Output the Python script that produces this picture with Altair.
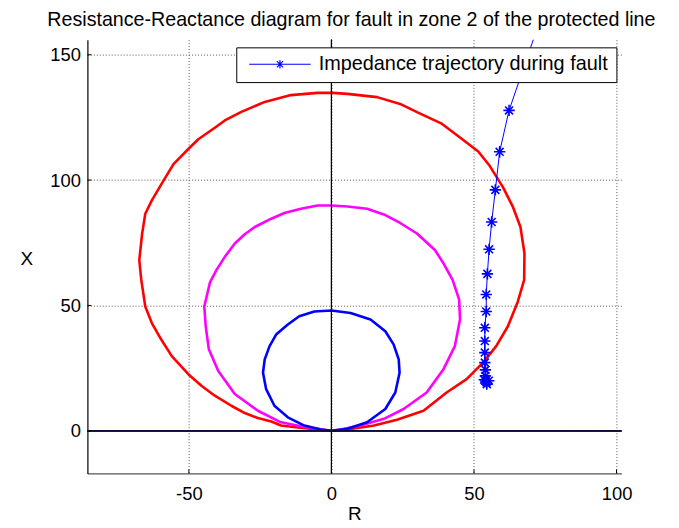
import altair as alt
import pandas as pd

title_text = "Resistance-Reactance diagram for fault in zone 2 of the protected line"
legend_label = "Impedance trajectory during fault"

# Zone 3 (red) characteristic
red_x = [0, 5.6, 14.9, 23.0, 32.3, 40.4, 47.4, 53.2, 57.8, 61.9, 65.4, 67.6, 67.7, 66.3, 63.7,
         60.2, 55.5, 51.5, 45.1, 38.7, 31.1, 24.1, 16.0, 5.6, 0.3, -4.9, -14.2, -23.4, -31.6,
         -37.4, -40.9, -46.7, -50.2, -55.4, -58.9, -63.0, -65.3, -66.4, -67.4, -66.7, -65.3,
         -63.0, -59.7, -56.0, -50.2, -45.5, -40.9, -35.1, -30.4, -25.8, -21.1, -17.7, -11.8,
         -4.9, 0]
red_y = [0, 0.5, 2.1, 4.4, 8.0, 15.3, 20.6, 27.2, 33.8, 41.7, 51.6, 60.2, 70.8, 81.3, 89.2,
         97.1, 105.7, 111.4, 117.0, 122.5, 126.5, 130.4, 133.1, 134.4, 134.8, 134.8, 133.9,
         131.2, 127.2, 123.8, 120.9, 116.3, 112.4, 106.4, 99.8, 91.9, 86.6, 78.7, 68.1, 60.2,
         49.6, 43.0, 36.4, 29.8, 22.6, 17.9, 14.0, 10.0, 7.1, 5.1, 3.7, 2.1, 1.3, 0.5, 0]

# Zone 2 (magenta)
mag_x = [0, 3.2, 10.2, 18.4, 25.3, 33.4, 39.3, 43.3, 45.1, 44.8, 42.5, 39.3, 36.3, 30.0, 24.1,
         18.4, 12.5, 5.6, 0, -4.9, -10.7, -16.5, -21.1, -26.9, -30.4, -33.9, -37.4, -40.3,
         -42.6, -44.6, -44.1, -43.0, -39.7, -33.9, -25.8, -17.7, -9.5, -2.5, 0]
mag_y = [0, 0.5, 2.1, 4.8, 8.7, 15.3, 24.6, 33.8, 44.4, 52.3, 60.2, 66.8, 72.1, 78.7, 82.9,
         86.3, 88.6, 89.5, 89.9, 89.9, 88.6, 86.9, 84.6, 81.3, 78.4, 74.7, 69.4, 64.2, 59.2,
         49.6, 41.7, 32.5, 23.9, 14.7, 8.0, 3.4, 1.5, 0.4, 0]

# Zone 1 (blue)
blue_x = [0, 5.6, 12.5, 18.9, 22.4, 23.9, 23.6, 21.8, 18.9, 13.7, 6.7, 0, -6.0, -11.3, -15.3,
          -19.4, -21.7, -23.4, -24.0, -22.9, -20.0, -15.3, -9.5, -3.7, 0]
blue_y = [0, 0.8, 3.4, 8.7, 15.3, 23.2, 28.5, 34.5, 39.7, 44.4, 47.0, 48.0, 47.6, 45.7, 42.4,
          38.4, 33.8, 28.5, 23.2, 16.6, 10.0, 5.4, 2.1, 0.5, 0]

# Impedance trajectory during the fault (marked samples)
traj_x = [62.3, 59.0, 57.5, 56.2, 55.3, 54.7, 54.3, 54.3, 53.8, 53.8, 53.8, 53.8, 54.0,
          54.0, 54.1, 54.4, 53.6, 55.2, 54.5]
traj_y = [127.8, 111.3, 96.1, 83.3, 72.4, 62.6, 54.4, 47.6, 41.1, 35.8, 31.2, 27.2, 24.3,
          21.9, 19.9, 19.3, 20.4, 20.0, 18.6]
# where the trajectory line leaves the top of the axes
exit_x = [70.8]
exit_y = [156.0]

x_ticks = [-50, 0, 50, 100]
y_ticks = [0, 50, 100, 150]
x_domain = [-85.6, 101.7]
y_domain = [-17, 156]

rows = []
for name, xs_, ys_ in [("red", red_x, red_y), ("magenta", mag_x, mag_y), ("blue", blue_x, blue_y)]:
    for i, (a, b) in enumerate(zip(xs_, ys_)):
        rows.append({"curve": name, "i": i, "R": a, "X": b})
circles = pd.DataFrame(rows)
traj = pd.DataFrame({"i": list(range(len(traj_x))), "R": traj_x, "X": traj_y,
                     "s": [legend_label] * len(traj_x)})
line_x = exit_x + traj_x
line_y = exit_y + traj_y
traj_ln = pd.DataFrame({"i": list(range(len(line_x))), "R": line_x, "X": line_y})
xt = pd.DataFrame({"R": x_ticks})
yt = pd.DataFrame({"X": y_ticks})

font = "Liberation Sans"
W, H = 538, 437

xs = alt.Scale(domain=x_domain, nice=False, zero=False)
ys = alt.Scale(domain=y_domain, nice=False, zero=False)

x_axis = alt.Axis(values=x_ticks, grid=True, gridDash=[1, 2], gridColor="#555555", gridWidth=1,
                  ticks=False, domainColor="#555555", domainWidth=1.3,
                  labelExpr="'' + datum.value", labelFont=font, labelFontSize=18.5,
                  labelColor="black", labelPadding=11,
                  title="R", titleFont=font, titleFontSize=19, titleFontWeight="normal",
                  titleColor="black", titleBaseline="alphabetic", titleY=46)
y_axis = alt.Axis(values=y_ticks, grid=True, gridDash=[1, 2], gridColor="#555555", gridWidth=1,
                  ticks=False, domainColor="black", domainWidth=1.2,
                  labelExpr="'' + datum.value", labelFont=font, labelFontSize=18.5,
                  labelColor="black", labelPadding=7,
                  title="X", titleFont=font, titleFontSize=19, titleFontWeight="normal",
                  titleColor="black", titleAngle=0, titleAlign="center",
                  titleBaseline="alphabetic", titleX=-61.6, titleY=226)

X = lambda f: alt.X(f, scale=xs, axis=x_axis)
Y = lambda f: alt.Y(f, scale=ys, axis=y_axis)

circ = alt.Chart(circles).mark_line(strokeWidth=2.6, strokeJoin="round").encode(
    x=X("R:Q"), y=Y("X:Q"),
    color=alt.Color("curve:N", scale=alt.Scale(domain=["red", "magenta", "blue"],
                                               range=["#ff0000", "#ff00ff", "#0000ff"]),
                    legend=None),
    detail="curve:N",
    order="i:Q")

zero_v = alt.Chart(xt).mark_rule(color="black", strokeWidth=1).encode(
    x=alt.X(datum=0, scale=xs, axis=x_axis))
zero_h = alt.Chart(yt).mark_rule(color="#0b0b40", strokeWidth=1.6).encode(
    y=alt.Y(datum=0, scale=ys, axis=y_axis))

yticks_in = alt.Chart(yt).mark_rule(color="black", strokeWidth=1).encode(
    y=Y("X:Q"), x=alt.value(0), x2=alt.value(4))
xticks_in = alt.Chart(xt).mark_rule(color="black", strokeWidth=1).encode(
    x=X("R:Q"), y=alt.value(H), y2=alt.value(H - 4))

traj_line = alt.Chart(traj_ln).mark_line(color="#0000ff", strokeWidth=1).encode(
    x=X("R:Q"), y=Y("X:Q"), order="i:Q")

ast = "M-1,0L1,0M0,-1L0,1M-0.7,-0.7L0.7,0.7M-0.7,0.7L0.7,-0.7"
leg_sym = ("M-1,0L1,0M-0.14,0L0.14,0M0,-0.14L0,0.14M-0.1,-0.1L0.1,0.1M-0.1,0.1L0.1,-0.1")

traj_pts = alt.Chart(traj).mark_point(shape=ast, size=130, filled=False, strokeWidth=1.6,
                                      opacity=1).encode(
    x=X("R:Q"), y=Y("X:Q"),
    color=alt.Color("s:N", scale=alt.Scale(range=["#0000ff"]),
                    legend=alt.Legend(title=None, orient="none", legendX=150, legendY=7.7,
                                      direction="vertical", fillColor="white",
                                      strokeColor="black", padding=8,
                                      cornerRadius=0, symbolType=leg_sym, symbolSize=3844,
                                      symbolStrokeWidth=1.2, symbolStrokeColor="#0000ff",
                                      symbolFillColor="transparent", symbolOffset=4,
                                      labelOffset=7, labelFont=font, labelFontSize=20,
                                      labelColor="black", clipHeight=18, labelLimit=400)))

chart = alt.layer(circ, zero_v, zero_h, yticks_in, xticks_in, traj_line, traj_pts).resolve_scale(
    color="independent"
).properties(
    width=W, height=H,
    title=alt.TitleParams(title_text, font=font, fontSize=19.8, fontWeight="normal",
                          color="black", anchor="middle", offset=8, dx=-3),
    autosize=alt.AutoSizeParams(type="none"),
    padding={"left": 80, "top": 30, "right": 50, "bottom": 50},
    background="white",
).configure_view(strokeWidth=0)

chart.save("out.html", embed_options={"renderer": "svg", "actions": False})
